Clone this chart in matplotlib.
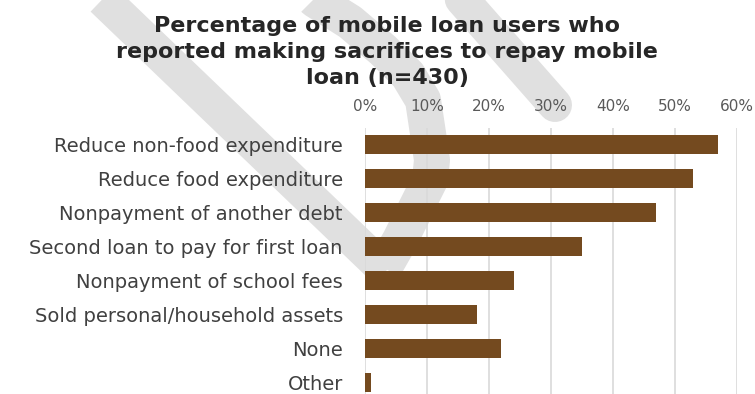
import matplotlib
matplotlib.use("Agg")
import matplotlib.pyplot as plt
import numpy as np
from matplotlib.ticker import PercentFormatter

# survey answers, top to bottom
categories = [
    "Reduce non-food expenditure",
    "Reduce food expenditure",
    "Nonpayment of another debt",
    "Second loan to pay for first loan",
    "Nonpayment of school fees",
    "Sold personal/household assets",
    "None",
    "Other",
]
shares = [0.57, 0.53, 0.47, 0.35, 0.24, 0.18, 0.22, 0.01]
xticks = [0.0, 0.1, 0.2, 0.3, 0.4, 0.5, 0.6]

title = ("Percentage of mobile loan users who\n"
         "reported making sacrifices to repay mobile\n"
         "loan (n=430)")

BAR = "#744a1f"
GRID = "#d9d9d9"
MARK = "#e0e0e0"

plt.rcParams["font.family"] = ["DejaVu Sans"]

W, H = 755, 394
fig = plt.figure(figsize=(W / 100, H / 100), dpi=100)

# faint background logo strokes, laid out in pixel space
bg = fig.add_axes([0, 0, 1, 1], zorder=0)
bg.set_xlim(0, W)
bg.set_ylim(H, 0)
bg.axis("off")
px = 72 / 100  # pixels -> points
bg.plot([85, 386], [-18, 271], color=MARK, lw=35 * px, solid_capstyle="butt")
arc_x = [300, 315, 350, 383, 408, 423, 432, 430, 420, 400, 384]
arc_y = [-15, 0, 22, 50, 75, 100, 160, 180, 200, 240, 268]
bg.plot(arc_x, arc_y, color=MARK, lw=36 * px, solid_capstyle="butt",
        solid_joinstyle="round")
bg.plot([445, 555], [-20, 105], color=MARK, lw=34 * px, solid_capstyle="round")
bg.plot([530, 650], [-35, -5], color=MARK, lw=40 * px, solid_capstyle="round")

ax = fig.add_axes([365 / W, 1 - 399.5 / H, (736.7 - 365) / W, 272 / H], zorder=1)
ax.patch.set_alpha(0)

y = np.arange(len(categories))
ax.barh(y, shares, height=0.53, color=BAR, zorder=3)

ax.set_xlim(0, 0.6)
ax.set_ylim(len(categories) - 0.5, -0.5)
ax.set_xticks(xticks)
ax.xaxis.set_major_formatter(PercentFormatter(1.0, decimals=0))
ax.xaxis.tick_top()
ax.set_yticks(y)
ax.set_yticklabels(categories)

ax.tick_params(axis="x", length=0, pad=10, labelsize=11, labelcolor="#595959")
ax.tick_params(axis="y", length=0, pad=16, labelsize=14, labelcolor="#404040")
ax.grid(axis="x", color=GRID, linewidth=1.2, zorder=0)
ax.set_axisbelow(True)
for s in ax.spines.values():
    s.set_visible(False)

fig.text(387 / W, 1 - 16 / H, title, ha="center", va="top",
         fontsize=16, fontweight="bold", color="#262626", linespacing=1.38)

fig.savefig("out.png", dpi=100)
